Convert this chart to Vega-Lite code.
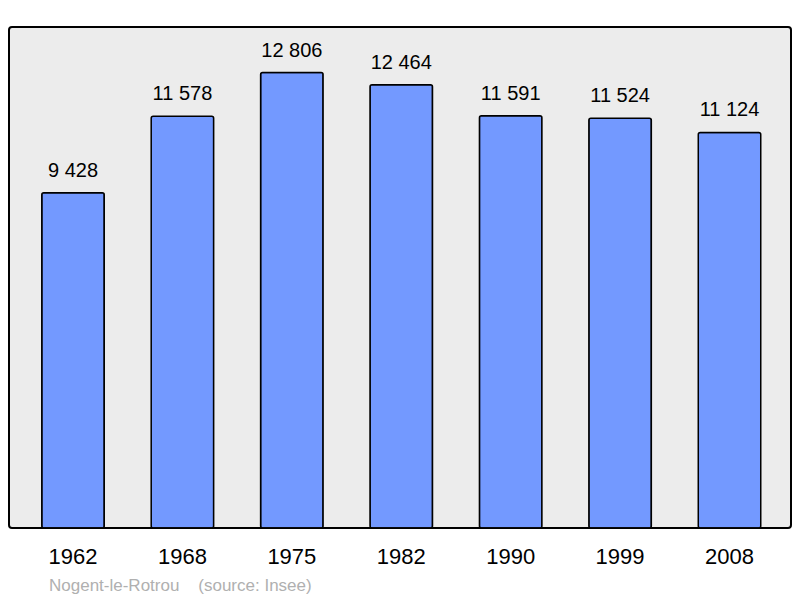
{
  "$schema": "https://vega.github.io/schema/vega-lite/v6.json",
  "width": 782,
  "height": 501,
  "autosize": "none",
  "padding": {"left": 9, "top": 27, "right": 9, "bottom": 70},
  "background": "white",
  "config": {
    "font": "Liberation Sans",
    "locale": {"number": {"decimal": ",", "thousands": " ", "grouping": [3], "currency": ["", " €"]}},
    "view": {"fill": "#ececec", "stroke": "black", "strokeWidth": 2, "cornerRadius": 3}
  },
  "title": {
    "text": "Nogent-le-Rotrou\u00a0\u00a0\u00a0\u00a0(source: Insee)",
    "orient": "bottom",
    "anchor": "start",
    "dx": 40,
    "offset": 11,
    "fontSize": 17,
    "fontWeight": "normal",
    "color": "#b0b0b0",
    "font": "Liberation Sans"
  },
  "data": {
    "values": [
      {"year": "1962", "pop": 9428},
      {"year": "1968", "pop": 11578},
      {"year": "1975", "pop": 12806},
      {"year": "1982", "pop": 12464},
      {"year": "1990", "pop": 11591},
      {"year": "1999", "pop": 11524},
      {"year": "2008", "pop": 11124}
    ]
  },
  "encoding": {
    "x": {
      "field": "year",
      "type": "ordinal",
      "sort": null,
      "scale": {"paddingInner": 0.429, "paddingOuter": 0.288, "align": 0.52},
      "axis": {
        "title": null,
        "domain": false,
        "ticks": false,
        "labelAngle": 0,
        "labelFontSize": 22,
        "labelColor": "black",
        "labelPadding": 18,
        "labelFont": "Liberation Sans"
      }
    },
    "y": {
      "field": "pop",
      "type": "quantitative",
      "scale": {"domain": [0, 14087], "nice": false},
      "axis": null
    }
  },
  "layer": [
    {
      "mark": {"type": "bar", "fill": "#7399ff", "stroke": "black", "strokeWidth": 1.5, "cornerRadius": 2}
    },
    {
      "mark": {"type": "text", "baseline": "alphabetic", "dy": -16, "fontSize": 20, "color": "black", "font": "Liberation Sans"},
      "encoding": {"text": {"field": "pop", "type": "quantitative", "format": ",d"}}
    }
  ]
}
